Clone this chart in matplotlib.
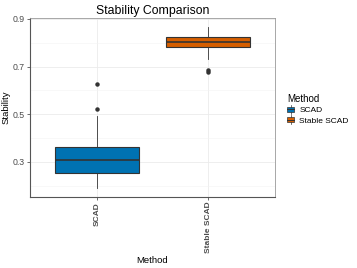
import matplotlib
matplotlib.use("Agg")
import matplotlib.pyplot as plt
from matplotlib.patches import Rectangle
from matplotlib.lines import Line2D

# box summaries
methods = ['SCAD', 'Stable SCAD']
q1 = [0.255, 0.784]
med = [0.307, 0.805]
q3 = [0.363, 0.823]
whislo = [0.189, 0.731]
whishi = [0.493, 0.868]
fliers = [[0.521, 0.625], [0.676, 0.684]]
colors = ['#0072B2', '#D55E00']

plt.rcParams['font.family'] = ['Liberation Sans', 'DejaVu Sans']


class BoxKey:
    # small boxplot glyph for the legend, like ggplot's key
    def __init__(self, color):
        self.color = color

    def legend_artist(self, legend, orig, fontsize, handlebox):
        x0, y0 = handlebox.xdescent, handlebox.ydescent
        w, h = handlebox.width, handlebox.height
        tr = handlebox.get_transform()
        vl = Line2D([x0 + w/2, x0 + w/2], [y0 - h*0.3, y0 + h*1.3], color='#333333',
                    linewidth=0.5, transform=tr)
        box = Rectangle((x0, y0 + h*0.1), w, h*0.8, facecolor=self.color,
                        edgecolor='#333333', linewidth=0.5, transform=tr)
        ml = Line2D([x0, x0 + w], [y0 + h/2, y0 + h/2], color='#333333',
                    linewidth=0.7, transform=tr)
        for a in (vl, box, ml):
            handlebox.add_artist(a)
        return box


fig = plt.figure(figsize=(3.57, 2.68), dpi=100)
ax = fig.add_axes([30/357, 1-197/268, 245/357, 179/268])

stats = []
for i, m in enumerate(methods):
    stats.append(dict(label=m, q1=q1[i], med=med[i], q3=q3[i],
                      whislo=whislo[i], whishi=whishi[i], fliers=fliers[i]))

bp = ax.bxp(stats, positions=[1, 2], widths=0.75, patch_artist=True,
            showcaps=False,
            boxprops=dict(edgecolor='#333333', linewidth=0.8),
            medianprops=dict(color='#333333', linewidth=1.2),
            whiskerprops=dict(color='#333333', linewidth=0.6),
            flierprops=dict(marker='o', markersize=2.2, markerfacecolor='#333333',
                            markeredgecolor='#333333'))
for patch, c in zip(bp['boxes'], colors):
    patch.set_facecolor(c)
    patch.set_zorder(3)
for k in ['whiskers', 'medians', 'fliers']:
    for a in bp[k]:
        a.set_zorder(3)

ax.set_xlim(0.4, 2.6)
ax.set_ylim(0.153, 0.904)
ax.set_yticks([0.3, 0.5, 0.7, 0.9])
ax.set_yticks([0.2, 0.4, 0.6, 0.8], minor=True)
ax.set_yticklabels(['0.3', '0.5', '0.7', '0.9'])
ax.set_xticks([1, 2])
ax.set_xticklabels(methods, rotation=90, fontweight='bold', fontsize=6.0, color='#4D4D4D')
ax.tick_params(axis='y', labelsize=6.3, labelcolor='#4D4D4D', length=2, color='#333333',
               width=0.5, pad=1.5)
ax.tick_params(axis='y', which='minor', length=0)
ax.tick_params(axis='x', length=2, color='#333333', width=0.5, pad=1.5)

ax.grid(True, which='major', color='#EBEBEB', linewidth=0.6, zorder=0)
ax.grid(True, which='minor', axis='y', color='#F3F3F3', linewidth=0.4, zorder=0)
ax.set_axisbelow(True)

for s in ['top', 'right']:
    ax.spines[s].set_color('#999999')
    ax.spines[s].set_linewidth(0.6)
for s in ['left', 'bottom']:
    ax.spines[s].set_color('#555555')
    ax.spines[s].set_linewidth(0.8)

ax.set_title('Stability Comparison', fontsize=8.8, pad=3)
ax.set_ylabel('Stability', fontsize=6.8, labelpad=2)
ax.set_xlabel('Method', fontsize=6.8, labelpad=1.5)

handles = [Rectangle((0, 0), 1, 1) for _ in colors]
leg = fig.legend(handles, methods, title='Method', loc='upper left',
                 bbox_to_anchor=(281/357, 1-88/268), frameon=False,
                 fontsize=6, title_fontsize=7, handlelength=0.9,
                 handleheight=0.7, handletextpad=0.6, labelspacing=0.3,
                 alignment='left', borderpad=0.2,
                 handler_map={h: BoxKey(c) for h, c in zip(handles, colors)})

fig.savefig('out.png', dpi=100)
